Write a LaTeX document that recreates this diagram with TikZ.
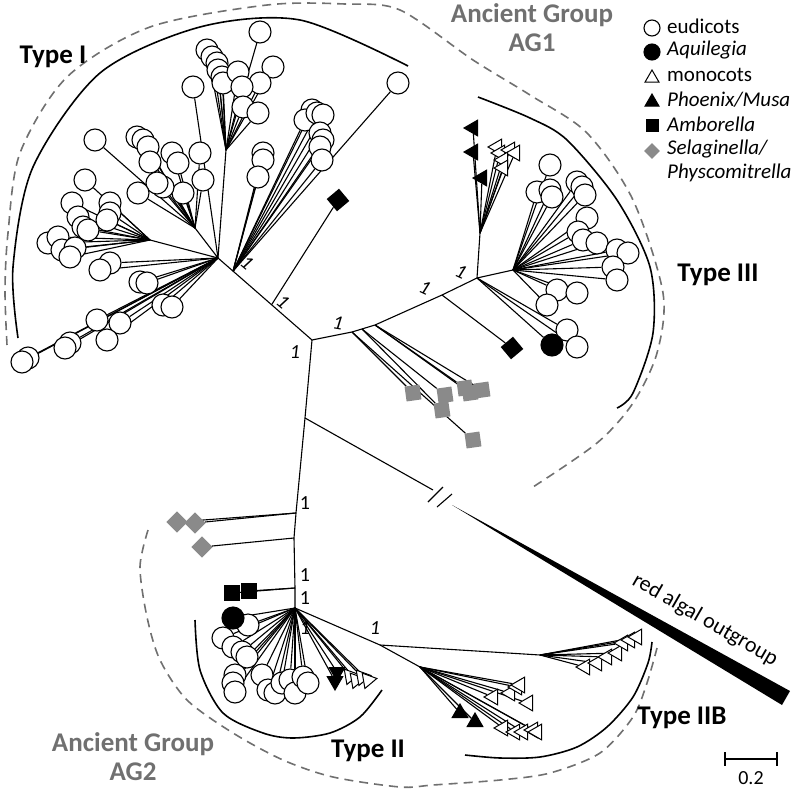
\documentclass[tikz,border=0pt]{standalone}
\usepackage{fontspec}
\setmainfont{Carlito}
\usetikzlibrary{calc,shapes.geometric}
\definecolor{aggray}{RGB}{112,112,112}
\definecolor{selgray}{RGB}{138,138,138}
\pgfdeclarelayer{bg}
\pgfsetlayers{bg,main}
\tikzset{
  br/.style={line width=1.1pt},
  eud/.style={circle,draw,fill=white,line width=1.1pt,minimum size=22pt,inner sep=0pt},
  aqu/.style={eud,fill=black},
  mono/.style={regular polygon,regular polygon sides=3,draw,fill=white,line width=1pt,minimum size=18pt,inner sep=0pt},
  monoL/.style={mono,rotate=90},
  monoD/.style={mono,rotate=160},
  phxL/.style={mono,fill=black,rotate=90},
  phxT/.style={mono,fill=black,rotate=120},
  phxD/.style={mono,fill=black,rotate=180},
  amb/.style={rectangle,fill=black,minimum size=16pt,inner sep=0pt},
  ambD/.style={amb,rotate=40},
  sel/.style={rectangle,fill=selgray,minimum size=15pt,inner sep=0pt,rotate=8},
  selD/.style={sel,rotate=37},
  bs/.style={font=\fontsize{20}{20}\selectfont\itshape,inner sep=1pt},
  bsu/.style={font=\fontsize{20}{20}\selectfont,inner sep=1pt},
  typelab/.style={font=\fontsize{27}{27}\selectfont\bfseries},
  aglab/.style={font=\fontsize{27}{29}\selectfont\bfseries,text=aggray,align=center},
  leg/.style={font=\fontsize{21}{21}\selectfont,anchor=west,inner sep=0pt},
  clade/.style={line width=1.6pt},
  ag/.style={line width=1.6pt,draw=aggray,dash pattern=on 9pt off 6pt},
}

\begin{document}
\begin{tikzpicture}[x=1pt,y=-1pt]
    \useasboundingbox (0,0) rectangle (795,790);
    % Backbone of the tree
    \coordinate (C0)  at (312,340); % root of AG1
    \coordinate (H1)  at (218,258); % Type I hub
    \coordinate (H1b) at ($(C0)!0.84!(H1)$); % Type I right subclade
    \coordinate (A1)  at ($(C0)!0.43!(H1)$); % Amborella in Type I
    \coordinate (hA)  at (226,150); % Type I top fan
    \coordinate (hB)  at (195,228); % Type I middle fan
    \coordinate (hC)  at (150,240); % Type I left fan
    \coordinate (S1)  at (352,332); % Selaginella in AG1
    \coordinate (S1b) at (362,329);
    \coordinate (S2)  at (375,325);
    \coordinate (S3)  at (442,295); % Amborella in Type III
    \coordinate (T3a) at (477,278); % Type III hub
    \coordinate (T3m) at (480,233); % Type III monocots
    \coordinate (T3b) at (513,270); % Type III eudicots
    \coordinate (R)   at (305,418); % outgroup split
    \coordinate (N1)  at (296,513);
    \coordinate (N2)  at (294,538);
    \coordinate (N3)  at (295,588);
    \coordinate (H2)  at (295,608); % Type II hub
    \coordinate (HB)  at (380,645); % Type IIB hub
    \coordinate (HB1) at (540,655);
    \coordinate (HB2) at (420,667);
    \draw[br] (H1) -- (C0) -- (S1) -- (S2) -- (S3) -- (T3a) -- (T3b);
    \draw[br] (C0) -- (R) -- (N1) -- (N2) -- (N3) -- (H2) -- (HB) -- (HB1);
    \draw[br] (HB) -- (HB2);
    \draw[br] (H1) -- (hA) (H1) -- (hB) (H1) -- (hC) (T3a) -- (T3m);

    % Type I
    \foreach \s/\x/\y [count=\i] in {eud/207/50,eud/212/57,eud/217/63,eud/218/70,eud/222/77,eud/223/83,
        eud/260/32,eud/273/67,eud/238/72,eud/260/83,eud/242/87,eud/243/107,eud/258/113}{
        \node[\s] (ta\i) at (\x,\y) {};
        \begin{pgfonlayer}{bg}\draw[br] (hA) -- (ta\i);\end{pgfonlayer}
    }
    \foreach \s/\x/\y [count=\i] in {eud/95/140,eud/137/137,eud/143/140,eud/148/147,eud/150/162,eud/172/153,
        eud/178/163,eud/200/153,eud/203/180,eud/183/193,eud/163/187,eud/157/183,eud/138/193}{
        \node[\s] (tb\i) at (\x,\y) {};
        \begin{pgfonlayer}{bg}\draw[br] (hB) -- (tb\i);\end{pgfonlayer}
    }
    \foreach \s/\x/\y [count=\i] in {eud/85/180,eud/72/203,eud/78/217,eud/83/227,eud/88/230,eud/110/203,
        eud/110/213,eud/107/220,eud/48/243,eud/58/237,eud/62/250,eud/75/248,eud/70/257}{
        \node[\s] (tc\i) at (\x,\y) {};
        \begin{pgfonlayer}{bg}\draw[br] (hC) -- (tc\i);\end{pgfonlayer}
    }
    \foreach \s/\x/\y [count=\i] in {eud/193/87,eud/110/263,eud/100/270,eud/140/282,eud/147/283,eud/163/305,
        eud/172/307,eud/97/320,eud/120/323,eud/107/340,eud/70/343,eud/65/348,eud/28/358,eud/22/362}{
        \node[\s] (td\i) at (\x,\y) {};
        \begin{pgfonlayer}{bg}\draw[br] (H1) -- (td\i);\end{pgfonlayer}
    }
    \foreach \s/\x/\y [count=\i] in {eud/263/153,eud/263/160,eud/258/177,eud/312/110,eud/305/120,eud/317/113,
        eud/323/115,eud/320/133,eud/323/140,eud/320/147,eud/322/160,eud/398/83}{
        \node[\s] (te\i) at (\x,\y) {};
        \begin{pgfonlayer}{bg}\draw[br] (H1b) -- (te\i);\end{pgfonlayer}
    }
    \node[ambD] (amb1) at (338,200) {};
    \draw[br] (A1) -- (amb1);

    % Type III
    \foreach \s/\x/\y [count=\i] in {sel/413/393,sel/473/440}{
        \node[\s] (ga\i) at (\x,\y) {};
        \begin{pgfonlayer}{bg}\draw[br] (S1) -- (ga\i);\end{pgfonlayer}
    }
    \foreach \s/\x/\y [count=\i] in {sel/445/395,sel/442/410}{
        \node[\s] (gb\i) at (\x,\y) {};
        \begin{pgfonlayer}{bg}\draw[br] (S1b) -- (gb\i);\end{pgfonlayer}
    }
    \foreach \s/\x/\y [count=\i] in {sel/465/388,sel/470/393,sel/482/390}{
        \node[\s] (gc\i) at (\x,\y) {};
        \begin{pgfonlayer}{bg}\draw[br] (S2) -- (gc\i);\end{pgfonlayer}
    }
    \node[ambD] (amb3) at (512,348) {};
    \draw[br] (S3) -- (amb3);
    \foreach \s/\x/\y [count=\i] in {eud/567/330,eud/577/347,aqu/552/345}{
        \node[\s] (ua\i) at (\x,\y) {};
        \begin{pgfonlayer}{bg}\draw[br] (T3a) -- (ua\i);\end{pgfonlayer}
    }
    \foreach \s/\x/\y [count=\i] in {phxL/473/128,phxL/473/152,phxL/482/178,monoL/497/147,monoL/500/153,
        monoL/510/150,monoL/515/153,monoL/503/160,monoL/503/168}{
        \node[\s] (um\i) at (\x,\y) {};
        \begin{pgfonlayer}{bg}\draw[br] (T3m) -- (um\i);\end{pgfonlayer}
    }
    \foreach \s/\x/\y [count=\i] in {eud/550/165,eud/537/192,eud/550/190,eud/552/197,eud/577/182,eud/582/187,
        eud/585/195,eud/587/218,eud/578/232,eud/583/240,eud/597/243,eud/617/250,eud/628/253,eud/613/267,
        eud/617/280,eud/557/290,eud/577/293,eud/547/305}{
        \node[\s] (ub\i) at (\x,\y) {};
        \begin{pgfonlayer}{bg}\draw[br] (T3b) -- (ub\i);\end{pgfonlayer}
    }

    % Type II and IIB
    \foreach \s/\x/\y [count=\i] in {selD/195/523,selD/177/522}{
        \node[\s] (gd\i) at (\x,\y) {};
        \begin{pgfonlayer}{bg}\draw[br] (N1) -- (gd\i);\end{pgfonlayer}
    }
    \node[selD] (gd3) at (202,547) {};
    \draw[br] (N2) -- (gd3);
    \foreach \s/\x/\y [count=\i] in {amb/249/591,amb/232/593}{
        \node[\s] (ab\i) at (\x,\y) {};
        \begin{pgfonlayer}{bg}\draw[br] (N3) -- (ab\i);\end{pgfonlayer}
    }
    \foreach \s/\x/\y [count=\i] in {eud/248/625,eud/223/638,eud/233/647,eud/242/652,eud/247/657,eud/235/675,
        eud/233/683,eud/235/692,eud/262/675,eud/268/690,eud/275/693,eud/282/683,eud/290/680,eud/295/693,
        eud/303/677,eud/308/683,aqu/233/618,phxD/337/672,phxD/335/681,monoD/350/676,monoD/356/680,
        monoD/362/677,monoD/368/680}{
        \node[\s] (va\i) at (\x,\y) {};
        \begin{pgfonlayer}{bg}\draw[br] (H2) -- (va\i);\end{pgfonlayer}
    }
    \foreach \s/\x/\y [count=\i] in {monoL/585/667,monoL/597/663,monoL/607/657,monoL/617/653,monoL/623/643,
        monoL/630/640,monoL/637/637}{
        \node[\s] (wa\i) at (\x,\y) {};
        \begin{pgfonlayer}{bg}\draw[br] (HB1) -- (wa\i);\end{pgfonlayer}
    }
    \foreach \s/\x/\y [count=\i] in {phxT/460/713,phxT/475/722,monoL/493/697,monoL/510/693,monoL/517/687,
        monoL/520/685,monoL/528/703,monoL/503/728,monoL/515/732,monoL/523/732,monoL/533/730,monoL/537/732}{
        \node[\s] (wb\i) at (\x,\y) {};
        \begin{pgfonlayer}{bg}\draw[br] (HB2) -- (wb\i);\end{pgfonlayer}
    }

    % red algal outgroup
    \coordinate (Rb) at (433,490);
    \coordinate (Rw) at (452,505);
    \draw[br] (R) -- (Rb);
    \draw[br] (428,502) -- (443,487) (437,507) -- (452,494);
    \fill (Rw) -- (790,691) -- (782,705) -- cycle;
    \node[rotate=-30,font=\fontsize{22}{22}\selectfont] (out) at (705,620) {red algal outgroup};

    % support values
    \node[bs] at (295,352) {1};
    \node[bs,rotate=-40] at (283,302) {1};
    \node[bs,rotate=-40] at (247,263) {1};
    \node[bs,rotate=-10] at (338,323) {1};
    \node[bs,rotate=-25] at (425,288) {1};
    \node[bs,rotate=-25] at (461,272) {1};
    \node[bsu] at (305,503) {1};
    \node[bsu] at (305,575) {1};
    \node[bsu] at (305,598) {1};
    \node[bs] at (305,628) {1};
    \node[bs] at (375,628) {1};

    % clade arcs
    \draw[clade] plot[smooth] coordinates {(18,338) (13,267) (33,167) (100,73) (200,27) (300,20) (408,66)};
    \draw[clade] plot[smooth] coordinates {(478,97) (530,118) (567,140) (617,200) (650,267) (653,333) (633,393) (617,408)};
    \draw[clade] plot[smooth] coordinates {(195,620) (200,670) (223,713) (263,733) (293,738) (330,733) (360,717) (382,690)};
    \draw[clade] plot[smooth] coordinates {(465,755) (500,758) (540,757) (577,747) (607,727) (633,697) (648,663) (652,642)};
    \draw[ag] plot[smooth] coordinates {(7,345) (5,290) (8,233) (20,153) (67,77) (150,27) (267,5) (345,4) (400,10)
        (473,60) (530,95) (587,133) (633,200) (663,293) (657,353) (633,403) (597,443) (533,487)};
    \draw[ag] plot[smooth] coordinates {(148,530) (140,567) (147,617) (160,660) (187,700) (233,733) (283,760)
        (333,777) (400,787) (433,785) (500,780) (550,773) (600,753) (633,717) (647,683) (657,648)};

    % clade names
    \node[typelab] (t1) at (53,57) {Type I};
    \node[typelab] (t3) at (718,275) {Type III};
    \node[typelab] (t2) at (368,751) {Type II};
    \node[typelab] (t2b) at (682,718) {Type IIB};
    \node[aglab] (ag1) at (532,28) {Ancient Group\\AG1};
    \node[aglab] (ag2) at (133,757) {Ancient Group\\AG2};

    % legend
    \node[eud,minimum size=16pt] (l1) at (652,28) {};
    \node[aqu,minimum size=16pt] (l2) at (652,52) {};
    \node[mono,minimum size=16pt] (l3) at (652,78) {};
    \node[mono,fill=black,minimum size=16pt] (l4) at (652,102) {};
    \node[amb,minimum size=13pt] (l5) at (652,125) {};
    \node[sel,rotate=37,minimum size=11pt] (l6) at (652,151) {};
    \node[leg] at (667,26) {eudicots};
    \node[leg] at (667,50) {\textit{Aquilegia}};
    \node[leg] at (667,75) {monocots};
    \node[leg] at (667,100) {\textit{Phoenix/Musa}};
    \node[leg] at (667,124) {\textit{Amborella}};
    \node[leg] at (667,149) {\textit{Selaginella/}};
    \node[leg] at (667,173) {\textit{Physcomitrella}};

    % scale bar
    \coordinate (sb1) at (725,759);
    \coordinate (sb2) at (777,759);
    \draw[br] (sb1) -- (sb2) ($(sb1)+(0,-7)$) -- ($(sb1)+(0,7)$) ($(sb2)+(0,-7)$) -- ($(sb2)+(0,7)$);
    \node[bsu] (sbl) at (751,778) {0.2};
\end{tikzpicture}
\end{document}
